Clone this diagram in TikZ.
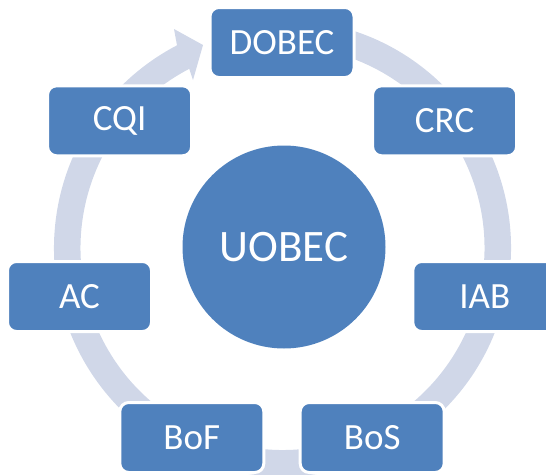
\documentclass[tikz,border=0pt]{standalone}
\usepackage{fontspec}
\setmainfont{Carlito}
\usetikzlibrary{calc}
\definecolor{boxblue}{RGB}{79,129,189}
\definecolor{ringc}{RGB}{208,215,232}
\begin{document}
\begin{tikzpicture}[x=1pt,y=-1pt,
  stepbox/.style={rectangle, rounded corners=9pt, fill=boxblue, draw=white, line width=3pt,
    minimum width=144pt, minimum height=70pt, inner sep=0pt, text=white,
    font=\fontsize{37}{40}\selectfont},
  hub/.style={circle, fill=boxblue, minimum size=203pt, inner sep=0pt, text=white,
    font=\fontsize{45}{48}\selectfont}]
\useasboundingbox (0,0) rectangle (546,474);
\clip (0,0) rectangle (546,474);
% cycle ring with arrow head
\coordinate (rc) at (282.5,248);
\coordinate (barbA) at (174,29);
\coordinate (tipA) at (203,45);
\coordinate (barbB) at (193,80);
\fill[ringc] ($(rc)+(-80:228.5)$) arc[start angle=-80, end angle=242.5, radius=228.5]
  -- (barbA) -- (tipA) -- (barbB)
  -- ($(rc)+(242.5:202)$) arc[start angle=242.5, end angle=-80, radius=202] -- cycle;
% hub
\node[hub] (uobec) at (284,247) {UOBEC};
% boxes
\node[stepbox] (dobec) at (282,42.5) {DOBEC};
\node[stepbox] (crc) at (444.6,120.8) {CRC};
\node[stepbox] (iab) at (484.8,296.5) {IAB};
\node[stepbox] (bos) at (372.2,437.5) {BoS};
\node[stepbox] (bof) at (191.8,437.5) {BoF};
\node[stepbox] (ac) at (79.5,296.5) {AC};
\node[stepbox] (cqi) at (119.6,120.8) {CQI};
\end{tikzpicture}
\end{document}
